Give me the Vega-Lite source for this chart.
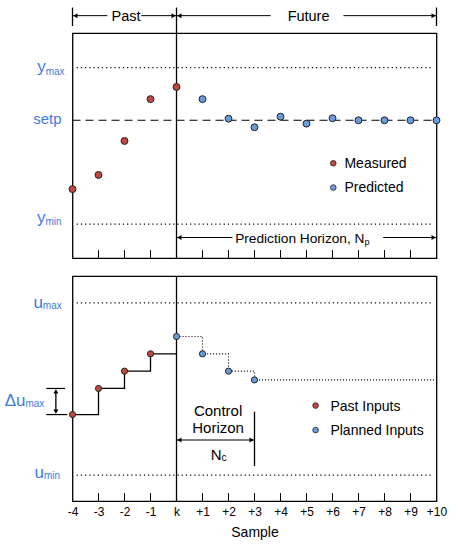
{
  "$schema": "https://vega.github.io/schema/vega-lite/v6.json",
  "padding": {"left": 3.5, "top": 6.2, "right": 5, "bottom": 5},
  "bounds": "flush",
  "spacing": 18,
  "config": {
    "font": "Liberation Sans",
    "view": {"stroke": "black", "strokeWidth": 1.3}
  },
  "vconcat": [
    {
      "width": 364,
      "height": 225,
      "encoding": {
        "x": {"field": "x", "type": "quantitative", "scale": {"domain": [-4, 10], "nice": false, "zero": false}, "axis": null},
        "y": {"field": "y", "type": "quantitative", "scale": {"domain": [0, 10], "nice": false, "zero": false}, "axis": null}
      },
      "layer": [
        {
          "data": {"values": [{"x": -3.84, "x2": 9.88, "y": 8.47}, {"x": -3.84, "x2": 9.88, "y": 1.51}]},
          "mark": {"type": "rule", "strokeDash": [1.2, 3], "strokeWidth": 1.2, "color": "black"},
          "encoding": {"x2": {"field": "x2"}}
        },
        {
          "data": {"values": [{"x": -4, "x2": 10, "y": 6.13}]},
          "mark": {"type": "rule", "strokeDash": [8, 5], "strokeWidth": 1.2, "color": "black"},
          "encoding": {"x2": {"field": "x2"}}
        },
        {
          "data": {"values": [{"x": 0, "y": 0, "y2": 11.14}, {"x": -4, "y": 10.32, "y2": 11.14}, {"x": 10, "y": 10.32, "y2": 11.14}]},
          "mark": {"type": "rule", "strokeWidth": 1.3, "color": "black"},
          "encoding": {"y2": {"field": "y2"}}
        },
        {
          "data": {"values": [
            {"x": -3, "y": 0, "y2": 0.36}, {"x": -2, "y": 0, "y2": 0.36}, {"x": -1, "y": 0, "y2": 0.36},
            {"x": 1, "y": 0, "y2": 0.36}, {"x": 2, "y": 0, "y2": 0.36}, {"x": 3, "y": 0, "y2": 0.36},
            {"x": 4, "y": 0, "y2": 0.36}, {"x": 5, "y": 0, "y2": 0.36}, {"x": 6, "y": 0, "y2": 0.36},
            {"x": 7, "y": 0, "y2": 0.36}, {"x": 8, "y": 0, "y2": 0.36}, {"x": 9, "y": 0, "y2": 0.36}
          ]},
          "mark": {"type": "rule", "strokeWidth": 1, "color": "black"},
          "encoding": {"y2": {"field": "y2"}}
        },
        {
          "data": {"values": [
            {"x": -4, "x2": -2.66, "y": 10.78}, {"x": -1.35, "x2": 0, "y": 10.78},
            {"x": 0, "x2": 3.62, "y": 10.78}, {"x": 6.42, "x2": 10, "y": 10.78},
            {"x": 0, "x2": 2.15, "y": 0.92}, {"x": 7.95, "x2": 10, "y": 0.92}
          ]},
          "mark": {"type": "rule", "strokeWidth": 1, "color": "black"},
          "encoding": {"x2": {"field": "x2"}}
        },
        {
          "data": {"values": [{"x": -3.89, "y": 10.78}, {"x": 0.11, "y": 10.78}, {"x": 0.11, "y": 0.92}]},
          "mark": {"type": "point", "shape": "triangle-left", "filled": true, "size": 25, "color": "black", "opacity": 1}
        },
        {
          "data": {"values": [{"x": -0.11, "y": 10.78}, {"x": 9.89, "y": 10.78}, {"x": 9.89, "y": 0.92}]},
          "mark": {"type": "point", "shape": "triangle-right", "filled": true, "size": 25, "color": "black", "opacity": 1}
        },
        {
          "data": {"values": [{"x": -4, "y": 3.07}, {"x": -3, "y": 3.70}, {"x": -2, "y": 5.21}, {"x": -1, "y": 7.07}, {"x": 0, "y": 7.61}]},
          "mark": {"type": "circle", "size": 48, "fill": "#c0493f", "stroke": "#222", "strokeWidth": 1, "opacity": 1}
        },
        {
          "data": {"values": [
            {"x": 1, "y": 7.07}, {"x": 2, "y": 6.20}, {"x": 3, "y": 5.82}, {"x": 4, "y": 6.29}, {"x": 5, "y": 5.98},
            {"x": 6, "y": 6.22}, {"x": 7, "y": 6.13}, {"x": 8, "y": 6.13}, {"x": 9, "y": 6.13}, {"x": 10, "y": 6.13}
          ]},
          "mark": {"type": "circle", "size": 48, "fill": "#6b9bdc", "stroke": "#222", "strokeWidth": 1, "opacity": 1}
        },
        {
          "data": {"values": [{"x": 6.03, "y": 4.22}]},
          "mark": {"type": "circle", "size": 32, "fill": "#c0493f", "stroke": "#222", "strokeWidth": 0.8, "opacity": 1}
        },
        {
          "data": {"values": [{"x": 6.03, "y": 3.14}]},
          "mark": {"type": "circle", "size": 32, "fill": "#6b9bdc", "stroke": "#222", "strokeWidth": 0.8, "opacity": 1}
        },
        {
          "data": {"values": [{"x": 6.46, "y": 4.0, "t": "Measured"}, {"x": 6.46, "y": 2.92, "t": "Predicted"}]},
          "mark": {"type": "text", "align": "left", "baseline": "alphabetic", "fontSize": 14, "color": "black"},
          "encoding": {"text": {"field": "t"}}
        },
        {
          "data": {"values": [{"x": -1.94, "y": 10.55, "t": "Past"}, {"x": 5.08, "y": 10.55, "t": "Future"}]},
          "mark": {"type": "text", "align": "center", "baseline": "alphabetic", "fontSize": 14.5, "color": "black"},
          "encoding": {"text": {"field": "t"}}
        },
        {
          "data": {"values": [{"x": 7.23, "y": 0.68, "t": "Prediction Horizon, N"}]},
          "mark": {"type": "text", "align": "right", "baseline": "alphabetic", "fontSize": 13.7, "color": "black"},
          "encoding": {"text": {"field": "t"}}
        },
        {
          "data": {"values": [{"x": 7.23, "y": 0.57, "t": "p"}]},
          "mark": {"type": "text", "align": "left", "baseline": "alphabetic", "fontSize": 9, "color": "black"},
          "encoding": {"text": {"field": "t"}}
        },
        {
          "data": {"values": [{"x": -5.03, "y": 8.26, "t": "y"}, {"x": -5.04, "y": 1.57, "t": "y"}]},
          "mark": {"type": "text", "align": "right", "baseline": "alphabetic", "fontSize": 17, "color": "#3d7ddb"},
          "encoding": {"text": {"field": "t"}}
        },
        {
          "data": {"values": [{"x": -5.03, "y": 8.15, "t": "max"}, {"x": -5.04, "y": 1.48, "t": "min"}]},
          "mark": {"type": "text", "align": "left", "baseline": "alphabetic", "fontSize": 10, "color": "#3d7ddb"},
          "encoding": {"text": {"field": "t"}}
        },
        {
          "data": {"values": [{"x": -4.42, "y": 5.98, "t": "setp"}]},
          "mark": {"type": "text", "align": "right", "baseline": "alphabetic", "fontSize": 15, "color": "#3d7ddb"},
          "encoding": {"text": {"field": "t"}}
        }
      ]
    },
    {
      "width": 364,
      "height": 225,
      "encoding": {
        "x": {
          "field": "x", "type": "quantitative",
          "scale": {"domain": [-4, 10], "nice": false, "zero": false},
          "axis": {
            "values": [-4, -3, -2, -1, 0, 1, 2, 3, 4, 5, 6, 7, 8, 9, 10],
            "labelExpr": "datum.value == 0 ? 'k' : (datum.value > 0 ? '+' + datum.value : '' + datum.value)",
            "ticks": false, "domain": false, "grid": false,
            "labelFontSize": 12, "labelColor": "black", "labelPadding": 5, "labelFlush": false,
            "title": "Sample", "titleFontSize": 14, "titleFontWeight": "normal", "titleColor": "black", "titlePadding": 8
          }
        },
        "y": {"field": "y", "type": "quantitative", "scale": {"domain": [0, 10], "nice": false, "zero": false}, "axis": null}
      },
      "layer": [
        {
          "data": {"values": [{"x": -3.84, "x2": 9.88, "y": 8.81}, {"x": -3.84, "x2": 9.88, "y": 1.16}]},
          "mark": {"type": "rule", "strokeDash": [1.2, 3], "strokeWidth": 1.2, "color": "black"},
          "encoding": {"x2": {"field": "x2"}}
        },
        {
          "data": {"values": [{"x": 0, "y": 0, "y2": 10}, {"x": 3, "y": 1.56, "y2": 3.98}, {"x": -4.64, "y": 3.98, "y2": 4.88}]},
          "mark": {"type": "rule", "strokeWidth": 1.3, "color": "black"},
          "encoding": {"y2": {"field": "y2"}}
        },
        {
          "data": {"values": [
            {"x": -3, "y": 0, "y2": 0.36}, {"x": -2, "y": 0, "y2": 0.36}, {"x": -1, "y": 0, "y2": 0.36},
            {"x": 1, "y": 0, "y2": 0.36}, {"x": 2, "y": 0, "y2": 0.36}, {"x": 3, "y": 0, "y2": 0.36},
            {"x": 4, "y": 0, "y2": 0.36}, {"x": 5, "y": 0, "y2": 0.36}, {"x": 6, "y": 0, "y2": 0.36},
            {"x": 7, "y": 0, "y2": 0.36}, {"x": 8, "y": 0, "y2": 0.36}, {"x": 9, "y": 0, "y2": 0.36}
          ]},
          "mark": {"type": "rule", "strokeWidth": 1, "color": "black"},
          "encoding": {"y2": {"field": "y2"}}
        },
        {
          "data": {"values": [
            {"x": 0, "x2": 3, "y": 2.72},
            {"x": -5.01, "x2": -4.29, "y": 5.01}, {"x": -5.01, "x2": -4.2, "y": 3.85}
          ]},
          "mark": {"type": "rule", "strokeWidth": 1.2, "color": "black"},
          "encoding": {"x2": {"field": "x2"}}
        },
        {
          "data": {"values": [{"x": 0.11, "y": 2.72}]},
          "mark": {"type": "point", "shape": "triangle-left", "filled": true, "size": 25, "color": "black", "opacity": 1}
        },
        {
          "data": {"values": [{"x": 2.89, "y": 2.72}]},
          "mark": {"type": "point", "shape": "triangle-right", "filled": true, "size": 25, "color": "black", "opacity": 1}
        },
        {
          "data": {"values": [{"x": -4.64, "y": 4.88}]},
          "mark": {"type": "point", "shape": "triangle-up", "filled": true, "size": 25, "color": "black", "opacity": 1}
        },
        {
          "data": {"values": [{"x": -4.64, "y": 3.98}]},
          "mark": {"type": "point", "shape": "triangle-down", "filled": true, "size": 25, "color": "black", "opacity": 1}
        },
        {
          "data": {"values": [{"x": -4, "y": 3.85}, {"x": -3, "y": 5.01}, {"x": -2, "y": 5.78}, {"x": -1, "y": 6.55}, {"x": 0, "y": 6.55}]},
          "mark": {"type": "line", "interpolate": "step-after", "strokeWidth": 1.3, "color": "black"}
        },
        {
          "data": {"values": [{"x": 0, "y": 7.32}, {"x": 1, "y": 6.55}, {"x": 2, "y": 5.78}, {"x": 3, "y": 5.39}, {"x": 10, "y": 5.39}]},
          "mark": {"type": "line", "interpolate": "step-after", "strokeWidth": 1.2, "strokeDash": [1, 2], "color": "black"}
        },
        {
          "data": {"values": [{"x": -4, "y": 3.85}, {"x": -3, "y": 5.01}, {"x": -2, "y": 5.78}, {"x": -1, "y": 6.55}]},
          "mark": {"type": "circle", "size": 38, "fill": "#c0493f", "stroke": "#222", "strokeWidth": 1, "opacity": 1}
        },
        {
          "data": {"values": [{"x": 0, "y": 7.32}, {"x": 1, "y": 6.55}, {"x": 2, "y": 5.78}, {"x": 3, "y": 5.39}]},
          "mark": {"type": "circle", "size": 38, "fill": "#6b9bdc", "stroke": "#222", "strokeWidth": 1, "opacity": 1}
        },
        {
          "data": {"values": [{"x": 5.35, "y": 4.25}]},
          "mark": {"type": "circle", "size": 32, "fill": "#c0493f", "stroke": "#222", "strokeWidth": 0.8, "opacity": 1}
        },
        {
          "data": {"values": [{"x": 5.35, "y": 3.16}]},
          "mark": {"type": "circle", "size": 32, "fill": "#6b9bdc", "stroke": "#222", "strokeWidth": 0.8, "opacity": 1}
        },
        {
          "data": {"values": [{"x": 5.92, "y": 4.03, "t": "Past Inputs"}, {"x": 5.92, "y": 2.96, "t": "Planned Inputs"}]},
          "mark": {"type": "text", "align": "left", "baseline": "alphabetic", "fontSize": 14, "color": "black"},
          "encoding": {"text": {"field": "t"}}
        },
        {
          "data": {"values": [{"x": 1.6, "y": 3.78, "t": "Control"}, {"x": 1.6, "y": 3.04, "t": "Horizon"}]},
          "mark": {"type": "text", "align": "center", "baseline": "alphabetic", "fontSize": 15, "color": "black"},
          "encoding": {"text": {"field": "t"}}
        },
        {
          "data": {"values": [{"x": 1.73, "y": 1.85, "t": "N"}]},
          "mark": {"type": "text", "align": "right", "baseline": "alphabetic", "fontSize": 15, "color": "black"},
          "encoding": {"text": {"field": "t"}}
        },
        {
          "data": {"values": [{"x": 1.73, "y": 1.78, "t": "c"}]},
          "mark": {"type": "text", "align": "left", "baseline": "alphabetic", "fontSize": 10, "color": "black"},
          "encoding": {"text": {"field": "t"}}
        },
        {
          "data": {"values": [{"x": -5.14, "y": 8.59, "t": "u"}, {"x": -5.1, "y": 1.04, "t": "u"}, {"x": -5.81, "y": 4.22, "t": "Δu"}]},
          "mark": {"type": "text", "align": "right", "baseline": "alphabetic", "fontSize": 17, "color": "#3d7ddb"},
          "encoding": {"text": {"field": "t"}}
        },
        {
          "data": {"values": [{"x": -5.14, "y": 8.53, "t": "max"}, {"x": -5.1, "y": 1.0, "t": "min"}, {"x": -5.81, "y": 4.17, "t": "max"}]},
          "mark": {"type": "text", "align": "left", "baseline": "alphabetic", "fontSize": 10, "color": "#3d7ddb"},
          "encoding": {"text": {"field": "t"}}
        }
      ]
    }
  ]
}
